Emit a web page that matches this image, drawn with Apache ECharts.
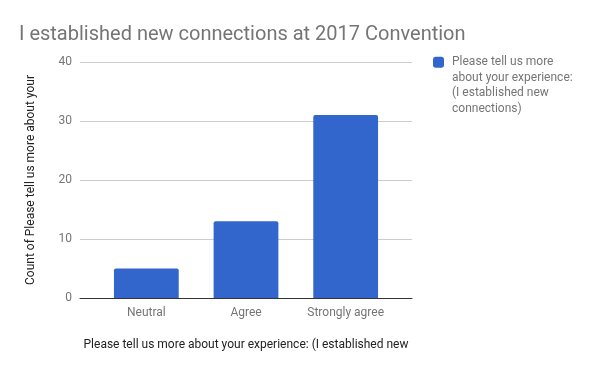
<!DOCTYPE html>
<html><head><meta charset="utf-8">
<script src="https://cdn.jsdelivr.net/npm/echarts@6/dist/echarts.min.js"></script>
<style>html,body{margin:0;padding:0;background:#fff}#c{width:600px;height:371px}</style>
</head><body><div id="c"></div>
<script>
const titleText = "I established new connections at 2017 Convention";
const categories = ["Neutral", "Agree", "Strongly agree"];
const counts = [5, 13, 31];
const seriesName = "Please tell us more about your experience: (I established new connections)";
const legendLines = ["Please tell us more", "about your experience:", "(I established new", "connections)"];
const yTicks = [0, 10, 20, 30, 40];
const yAxisName = "Count of Please tell us more about your";
const xAxisName = "Please tell us more about your experience: (I established new";

const chart = echarts.init(document.getElementById('c'));
const F = 'Roboto, Arial, sans-serif';
chart.setOption({
  animation: false,
  title: { text: titleText, left: 14, top: 20, textStyle: { fontFamily: F, fontSize: 20, fontWeight: 'normal', color: '#757575' } },
  legend: {
    left: 428, top: 3, orient: 'vertical', itemWidth: 11, itemHeight: 11, icon: 'roundRect',
    data: [seriesName],
    formatter: () => ' \n \n \n' + legendLines.join('\n'),
    textStyle: { fontFamily: F, fontSize: 12, color: '#757575', lineHeight: 15.5, padding: [0, 0, 0, 3] }
  },
  grid: [
    { left: 80, width: 332, top: 62, height: 236 },
    { left: 96.5, width: 299, top: 62, height: 236 }
  ],
  xAxis: [
    { type: 'category', gridIndex: 0, data: categories, axisLine: { lineStyle: { color: '#333', width: 1 } }, axisTick: { show: false }, axisLabel: { show: false } },
    { type: 'category', gridIndex: 1, data: categories, axisLine: { show: false }, axisTick: { show: false },
      axisLabel: { fontFamily: F, fontSize: 12, color: '#757575', margin: 9, interval: 0 },
      name: xAxisName, nameLocation: 'middle', nameGap: 41, nameTextStyle: { fontFamily: F, fontSize: 12, color: '#222' } }
  ],
  yAxis: [
    { type: 'value', gridIndex: 0, min: 0, max: 40, interval: 10,
      axisLabel: { fontFamily: F, fontSize: 12, color: '#757575', margin: 8 },
      axisLine: { show: false }, axisTick: { show: false },
      splitLine: { lineStyle: { color: '#cccccc' } },
      name: yAxisName, nameLocation: 'middle', nameGap: 43, nameTextStyle: { fontFamily: F, fontSize: 12, color: '#222' } },
    { type: 'value', gridIndex: 1, min: 0, max: 40, interval: 10, show: false, splitLine: { show: false } }
  ],
  series: [{
    name: seriesName, type: 'bar', xAxisIndex: 1, yAxisIndex: 1, data: counts, barWidth: '65%',
    itemStyle: { color: '#3366cc', borderRadius: [2, 2, 0, 0] }
  }]
});
</script></body></html>
